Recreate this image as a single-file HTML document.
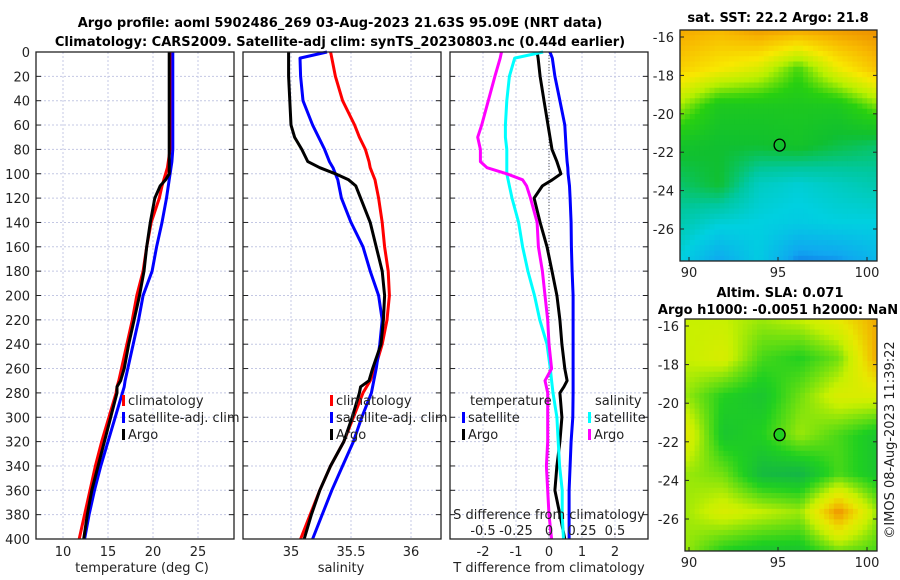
<!DOCTYPE html>
<html><head><meta charset="utf-8"><style>
body{margin:0;background:#fff;}
svg{display:block;font-family:"DejaVu Sans","Liberation Sans",sans-serif;}
</style></head><body>
<svg id="fig" width="900" height="580" viewBox="0 0 900 580">
<text x="340" y="27" font-size="13" font-weight="bold" text-anchor="middle">Argo profile: aoml 5902486_269 03-Aug-2023 21.63S 95.09E (NRT data)</text>
<text x="340" y="46" font-size="13" font-weight="bold" text-anchor="middle">Climatology: CARS2009. Satellite-adj clim: synTS_20230803.nc (0.44d earlier)</text>
</svg>
<script>
const depths=[0,5,20,40,60,70,80,90,95,100,105,110,120,140,160,180,200,220,240,260,270,275,280,300,320,340,360,380,400];
// temperature (deg C)
const tClim=[22.0,22.0,22.0,22.0,22.0,21.95,21.9,21.7,21.6,21.4,21.2,21.0,20.7,19.8,19.3,18.9,18.2,17.7,17.1,16.5,16.2,16.0,15.9,15.1,14.3,13.6,13.0,12.4,11.8];
const tSat=[22.2,22.2,22.2,22.2,22.2,22.2,22.2,22.1,22.0,21.9,21.8,21.7,21.5,21.0,20.4,19.9,18.9,18.4,17.8,17.2,16.9,16.8,16.6,15.8,15.0,14.2,13.5,12.9,12.4];
const tArgo=[21.8,21.8,21.8,21.8,21.8,21.8,21.8,21.8,21.8,21.8,21.4,20.8,20.2,19.7,19.3,19.0,18.5,17.9,17.3,16.8,16.4,16.0,16.0,15.3,14.6,13.9,13.2,12.7,12.3];
// salinity
const sClim=[35.33,35.34,35.37,35.43,35.53,35.57,35.62,35.65,35.66,35.68,35.70,35.71,35.73,35.76,35.78,35.81,35.82,35.80,35.76,35.70,35.66,35.63,35.60,35.52,35.44,35.33,35.24,35.16,35.08];
const sSat=[35.30,35.075,35.08,35.10,35.18,35.23,35.28,35.32,35.35,35.37,35.39,35.40,35.42,35.50,35.60,35.66,35.73,35.76,35.74,35.71,35.69,35.68,35.67,35.59,35.52,35.43,35.34,35.26,35.18];
const sArgo=[34.98,34.98,34.98,34.99,35.00,35.03,35.09,35.14,35.24,35.37,35.48,35.54,35.58,35.66,35.71,35.76,35.78,35.77,35.75,35.68,35.65,35.58,35.57,35.51,35.44,35.33,35.24,35.17,35.11];
// differences from climatology
const dTSat=[0.03,0.1,0.18,0.33,0.48,0.5,0.52,0.55,0.57,0.58,0.6,0.62,0.64,0.67,0.68,0.7,0.73,0.73,0.73,0.73,0.73,0.73,0.73,0.72,0.67,0.64,0.61,0.61,0.61];
const dTArgo=[-0.36,-0.33,-0.27,-0.15,-0.03,0.03,0.09,0.24,0.3,0.36,0.1,-0.2,-0.45,-0.27,-0.06,0.09,0.24,0.33,0.39,0.48,0.55,0.45,0.33,0.39,0.33,0.24,0.18,0.33,0.48];
const dSSat=[-0.045,-0.26,-0.30,-0.32,-0.33,-0.33,-0.32,-0.32,-0.32,-0.32,-0.31,-0.3,-0.28,-0.23,-0.2,-0.16,-0.11,-0.07,-0.015,0.01,0.02,0.025,0.03,0.06,0.07,0.08,0.1,0.1,0.11];
const dSArgo=[-0.36,-0.37,-0.41,-0.46,-0.51,-0.54,-0.52,-0.52,-0.47,-0.32,-0.2,-0.17,-0.14,-0.09,-0.08,-0.05,-0.03,-0.01,0.0,0.02,-0.03,-0.02,-0.01,-0.01,-0.01,-0.02,-0.01,0.0,0.02];
const yTicks=[0,20,40,60,80,100,120,140,160,180,200,220,240,260,280,300,320,340,360,380,400];
const tTicks=[10,15,20,25];
const sTicks=[35,35.5,36];
const sTickLabels=["35","35.5","36"];
const dTTicks=[-2,-1,0,1,2];
const dSTicks=[-0.5,-0.25,0,0.25,0.5];
const dSTickLabels=["-0.5","-0.25","0","0.25","0.5"];
// map fields (rows lat -16..-27.5, cols lon 90..100.5), normalized colour index
const sstGrid=[[0.93,0.9,0.95,0.93,0.95,0.97],[0.85,0.8,0.75,0.62,0.78,0.88],[0.68,0.55,0.55,0.55,0.55,0.65],[0.52,0.5,0.5,0.52,0.48,0.45],[0.45,0.5,0.35,0.32,0.35,0.38],[0.38,0.32,0.3,0.28,0.3,0.3],[0.3,0.15,0.28,0.1,0.12,0.2]];
const slaGrid=[[0.6,0.6,0.55,0.6,0.7,0.85],[0.6,0.65,0.45,0.4,0.5,0.85],[0.55,0.4,0.35,0.5,0.65,0.65],[0.7,0.35,0.4,0.55,0.45,0.35],[0.55,0.5,0.3,0.28,0.45,0.35],[0.55,0.65,0.6,0.55,0.9,0.55],[0.55,0.4,0.35,0.35,0.5,0.45]];
const latTicks=[-16,-18,-20,-22,-24,-26];
const lonTicks=[90,95,100];
const floatLon=95.09, floatLat=-21.63;

const NS='http://www.w3.org/2000/svg';
const svg=document.getElementById('fig');
function el(tag,attrs,parent){const e=document.createElementNS(NS,tag);for(const k in attrs)e.setAttribute(k,attrs[k]);(parent||svg).appendChild(e);return e;}
function txt(s,x,y,attrs,parent){const e=el('text',Object.assign({x:x,y:y,'font-size':13,fill:'#222'},attrs||{}),parent);e.textContent=s;return e;}

const TOP=52,BOT=539;
const yScale=d=>TOP+(d/400)*(BOT-TOP);

function panel(name,L,R,xmin,xmax,gridVals){
  const g=el('g',{});
  
  
  const xs=v=>L+(v-xmin)/(xmax-xmin)*(R-L);
  yTicks.forEach(t=>{el('line',{x1:L,x2:R,y1:yScale(t),y2:yScale(t),stroke:'#c4c8e4','stroke-width':1,'stroke-dasharray':'2,2'},g);});
  gridVals.forEach(v=>{el('line',{x1:xs(v),x2:xs(v),y1:TOP,y2:BOT,stroke:'#c4c8e4','stroke-width':1,'stroke-dasharray':'2,2'},g);});
  yTicks.forEach(t=>{el('line',{x1:L,x2:L+5,y1:yScale(t),y2:yScale(t),stroke:'#222'},g);el('line',{x1:R-5,x2:R,y1:yScale(t),y2:yScale(t),stroke:'#222'},g);});
  return {g,xs};
}
function series(g,xs,vals,color,name){
  const pts=vals.map((v,i)=>xs(v).toFixed(1)+','+yScale(depths[i]).toFixed(1)).join(' ');
  const p=el('polyline',{points:pts,fill:'none',stroke:color,'stroke-width':3,'stroke-linejoin':'round'},g);
  
  
}
function frame(g,L,R){el('rect',{x:L,y:TOP,width:R-L,height:BOT-TOP,fill:'none',stroke:'#222','stroke-width':1.3},g);}
function legendEntry(g,x,y,color,label,name){
  const gg=el('g',{},g);
  
  
  el('rect',{x:x,y:y-10,width:3,height:11,fill:color},gg);
  txt(label,x+6,y,{},gg);
}

// y tick labels
yTicks.forEach(t=>{const e=txt(String(t),30,yScale(t)+5,{'text-anchor':'end'});});

// Panel 1
{const P=panel('temperature-panel',36,234,7,29,tTicks);
 tTicks.forEach(t=>txt(String(t),P.xs(t),556,{'text-anchor':'middle'},P.g));
 txt('temperature (deg C)',142,572,{'text-anchor':'middle'},P.g);
 series(P.g,P.xs,tClim,'#ff0000','temp-climatology-line');
 series(P.g,P.xs,tSat,'#0000ff','temp-satellite-line');
 series(P.g,P.xs,tArgo,'#000000','temp-argo-line');
 frame(P.g,36,234);
 legendEntry(P.g,122,405,'#ff0000','climatology','legend-climatology');
 legendEntry(P.g,122,422,'#0000ff','satellite-adj. clim','legend-satellite-adj');
 legendEntry(P.g,122,439,'#000000','Argo','legend-argo');}
// Panel 2
{const P=panel('salinity-panel',243,441,34.6,36.25,sTicks);
 sTicks.forEach((t,i)=>txt(sTickLabels[i],P.xs(t),556,{'text-anchor':'middle'},P.g));
 txt('salinity',341,572,{'text-anchor':'middle'},P.g);
 series(P.g,P.xs,sClim,'#ff0000','sal-climatology-line');
 series(P.g,P.xs,sSat,'#0000ff','sal-satellite-line');
 series(P.g,P.xs,sArgo,'#000000','sal-argo-line');
 frame(P.g,243,441);
 legendEntry(P.g,330,405,'#ff0000','climatology','legend-climatology-2');
 legendEntry(P.g,330,422,'#0000ff','satellite-adj. clim','legend-satellite-adj-2');
 legendEntry(P.g,330,439,'#000000','Argo','legend-argo-2');}
// Panel 3
{const P=panel('difference-panel',450,648,-3,3,dTTicks);
 const xsS=v=>549+v*132;
 el('line',{x1:P.xs(0),x2:P.xs(0),y1:TOP,y2:BOT,stroke:'#555','stroke-dasharray':'1,2'},P.g);
 dTTicks.forEach(t=>txt(String(t),P.xs(t),556,{'text-anchor':'middle'},P.g));
 txt('T difference from climatology',549,572,{'text-anchor':'middle'},P.g);
 series(P.g,P.xs,dTSat,'#0000ff','tdiff-satellite-line');
 series(P.g,P.xs,dTArgo,'#000000','tdiff-argo-line');
 series(P.g,xsS,dSSat,'#00ffff','sdiff-satellite-line');
 series(P.g,xsS,dSArgo,'#ff00ff','sdiff-argo-line');
 frame(P.g,450,648);
 txt('S difference from climatology',549,519,{'text-anchor':'middle'},P.g);
 dSTicks.forEach((t,i)=>txt(dSTickLabels[i],xsS(t),535,{'text-anchor':'middle'},P.g));
 txt('temperature',470,405,{},P.g);
 legendEntry(P.g,462,422,'#0000ff','satellite','legend-tdiff-satellite');
 legendEntry(P.g,462,439,'#000000','Argo','legend-tdiff-argo');
 txt('salinity',595,405,{},P.g);
 legendEntry(P.g,588,422,'#00ffff','satellite','legend-sdiff-satellite');
 legendEntry(P.g,588,439,'#ff00ff','Argo','legend-sdiff-argo');}

// colour maps
function lerpC(stops,v){v=Math.max(0,Math.min(1,v));for(let i=0;i<stops.length-1;i++){const a=stops[i],b=stops[i+1];if(v<=b[0]){const f=(v-a[0])/(b[0]-a[0]);return 'rgb('+[1,2,3].map(k=>Math.round(a[k]+(b[k]-a[k])*f)).join(',')+')';}}const l=stops[stops.length-1];return 'rgb('+l[1]+','+l[2]+','+l[3]+')';}
const sstStops=[[0,16,64,224],[0.15,16,168,240],[0.3,0,208,224],[0.4,0,200,160],[0.5,16,192,48],[0.6,40,208,16],[0.7,184,240,0],[0.8,248,232,0],[0.9,248,184,0],[1,232,128,0]];
const slaStops=[[0.25,16,176,80],[0.4,32,208,32],[0.5,112,224,16],[0.6,200,240,0],[0.7,232,232,0],[0.8,240,192,0],[0.9,240,144,0],[1,230,120,0]];
function sample(grid,fx,fy){const R=grid.length-1,C=grid[0].length-1;const x=fx*C,y=fy*R;const i=Math.min(Math.floor(y),R-1),j=Math.min(Math.floor(x),C-1);const u=x-j,w=y-i;return grid[i][j]*(1-u)*(1-w)+grid[i][j+1]*u*(1-w)+grid[i+1][j]*(1-u)*w+grid[i+1][j+1]*u*w;}
function map(name,L,T,R,B,lat16,lat26,lon90,lon100,grid,stops,dotFill){
  const g=el('g',{});
  
  
  const nx=40,ny=44,cw=(R-L)/nx,ch=(B-T)/ny;
  for(let r=0;r<ny;r++)for(let c=0;c<nx;c++){el('rect',{x:(L+c*cw).toFixed(2),y:(T+r*ch).toFixed(2),width:(cw+0.5).toFixed(2),height:(ch+0.5).toFixed(2),fill:lerpC(stops,sample(grid,(c+0.5)/nx,(r+0.5)/ny))},g);}
  el('rect',{x:L,y:T,width:R-L,height:B-T,fill:'none',stroke:'#222','stroke-width':1.3},g);
  const ly=v=>lat16+(v+16)/(-10)*(lat26-lat16);
  const lx=v=>lon90+(v-90)/10*(lon100-lon90);
  latTicks.forEach(t=>{el('line',{x1:L,x2:L+4,y1:ly(t),y2:ly(t),stroke:'#222'},g);el('line',{x1:R-4,x2:R,y1:ly(t),y2:ly(t),stroke:'#222'},g);txt(String(t),L-6,ly(t)+5,{'text-anchor':'end'},g);});
  lonTicks.forEach(t=>{el('line',{x1:lx(t),x2:lx(t),y1:B-4,y2:B,stroke:'#222'},g);txt(String(t),lx(t),B+16,{'text-anchor':'middle'},g);});
  const m=el('ellipse',{cx:lx(floatLon),cy:ly(floatLat),rx:5.5,ry:6,fill:dotFill,stroke:'#000','stroke-width':1.3},g);
  
  
}
map('sst-map',680,30,877,261,37,229,689,867,sstGrid,sstStops,'none');
txt('sat. SST: 22.2 Argo: 21.8',778,22,{'font-weight':'bold',fill:'#000','text-anchor':'middle'});
map('sla-map',685,319,877,551,326,519,689,867,slaGrid,slaStops,'#20d020');
txt('Altim. SLA: 0.071',780,297,{'font-weight':'bold',fill:'#000','text-anchor':'middle'});
txt('Argo h1000: -0.0051 h2000: NaN',778,314,{'font-weight':'bold',fill:'#000','text-anchor':'middle'});
txt('©IMOS 08-Aug-2023 11:39:22',894,440,{'text-anchor':'middle',transform:'rotate(-90 894 440)'});
</script>
</body></html>
